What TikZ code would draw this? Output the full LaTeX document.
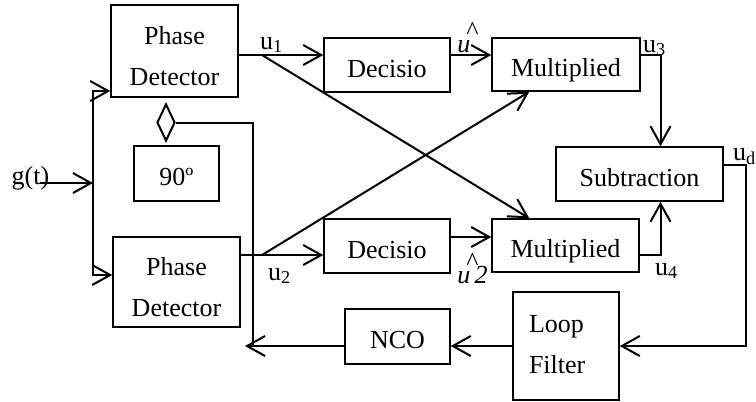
\documentclass[tikz,border=0pt]{standalone}
\usepackage{fontspec}
\setmainfont{Liberation Serif}
\usetikzlibrary{arrows.meta,shapes.geometric,calc}
\begin{document}
\begin{tikzpicture}[x=1pt,y=-1pt,
  box/.style={draw,line width=1.5pt,inner sep=0pt,font=\fontsize{26pt}{41pt}\selectfont,text height=26pt,text depth=2pt},
  twoline/.style={align=center,text height=68pt,text depth=0pt},
  conn/.style={line width=2pt},
  arr/.style={conn,-{Straight Barb[length=18pt,width=20pt]}},
  lbl/.style={inner sep=0pt,font=\fontsize{26pt}{30pt}\selectfont},
  hatlbl/.style={inner sep=0pt,anchor=base,font=\fontsize{26pt}{30pt}\selectfont},
]
\useasboundingbox (0,0) rectangle (756,402);

% blocks
\node[box,twoline,minimum width=127pt,minimum height=92pt] (PD1) at (174.5,51) {Phase\\Detector};
\node[box,twoline,minimum width=127pt,minimum height=90pt] (PD2) at (176.5,282) {Phase\\Detector};
\node[box,minimum width=85pt,minimum height=55pt] (N90) at (176.5,173.5) {90º};
\node[draw,diamond,aspect=0.5,line width=2pt,minimum width=18pt,minimum height=37pt,inner sep=0pt] (DJ) at (166,122.5) {};
\node[box,minimum width=126pt,minimum height=54pt] (D1) at (387,65) {Decisio};
\node[box,minimum width=126pt,minimum height=54pt] (D2) at (387,246) {Decisio};
\node[box,minimum width=148pt,minimum height=53pt] (M1) at (566,64.5) {Multiplied};
\node[box,minimum width=147pt,minimum height=53pt] (M2) at (565.5,245.5) {Multiplied};
\node[box,minimum width=167pt,minimum height=54pt] (S) at (639.5,174) {Subtraction};
\node[box,align=left,text width=74pt,text height=26pt,text depth=54pt,minimum width=106pt,minimum height=108pt] (LF) at (566,346) {Loop\\Filter};
\node[box,minimum width=105pt,minimum height=55pt] (NCO) at (397.5,336.5) {NCO};

% labels
\node[lbl,anchor=base] (g) at (30.5,184) {g(t)};
\node[lbl,anchor=base west] (lu1) at (260,49) {u\textsubscript{1}};
\node[lbl,anchor=base west] (lu2) at (268,280) {u\textsubscript{2}};
\node[lbl,anchor=base west] (lu3) at (643,52) {u\textsubscript{3}};
\node[lbl,anchor=base west] (lu4) at (655,275) {u\textsubscript{4}};
\node[lbl,anchor=base west] (lud) at (733,160) {u\textsubscript{d}};
\node[hatlbl] (uh1) at (472.5,52) {\ooalign{\textit{u}\phantom{\textit{\,1}}\cr\hidewidth\raisebox{13pt}{\textasciicircum}\hidewidth\cr}};
\node[hatlbl] (uh2) at (472.5,283) {\ooalign{\textit{u\,2}\cr\hidewidth\raisebox{13pt}{\textasciicircum}\hidewidth\cr}};

% connectors
\coordinate (gin) at (40,183);
\coordinate (sp) at (93,183);
\draw[arr] (gin) -- (sp);
\draw[arr] (sp) |- (PD1.west |- 0,91);
\draw[arr] (sp) |- (PD2.west |- 0,275);

\coordinate (s1) at (262,55);
\coordinate (s2) at (262,255);
\draw[arr] (PD1.east |- s1) -- (D1.west |- s1);
\draw[arr] (s1) -- ([xshift=38pt]M2.north west);
\draw[arr] (D1.east |- s1) -- (M1.west |- s1);
\draw[arr] (PD2.east |- s2) -- (D2.west |- s2);
\draw[arr] (s2) -- ([xshift=38pt]M1.south west);
\draw[arr] (D2.east |- 0,237) -- (M2.west |- 0,237);
\draw[arr] (M1.east |- s1) -| ([xshift=21pt]S.north);
\draw[arr] (M2.east |- s2) -| ([xshift=21pt]S.south);

\coordinate (ud) at (746,165);
\draw[arr] (S.east |- ud) -- (ud) |- (LF.east);
\draw[arr] (LF.west) -- (NCO.east |- LF.west);
\coordinate (fb) at (245,346);
\coordinate (fbv) at (253,346);
\draw[arr] (NCO.west |- LF.west) -- (fb);
\draw[conn] (fbv) |- (DJ.east);
\end{tikzpicture}
\end{document}
